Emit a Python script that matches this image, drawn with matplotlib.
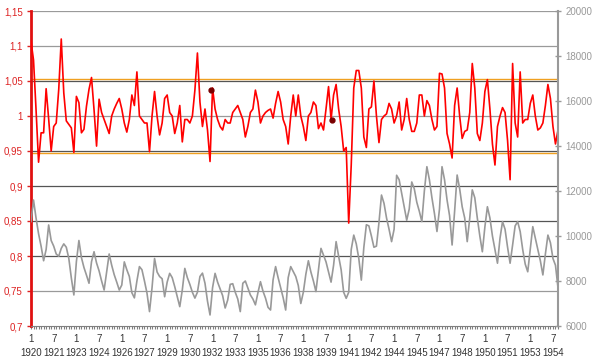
import numpy as np
import matplotlib.pyplot as plt
from matplotlib.ticker import MultipleLocator

plt.rcParams['font.family'] = ['Liberation Sans', 'DejaVu Sans']

# months counted from Jan 1920, one reading every second month
months = np.arange(0, 420, 2)

# ratio series (left axis)
ratio = [
    1.107, 1.08, 1.009, 0.934, 0.976, 0.976, 1.039, 0.996, 0.95, 0.985,
    0.99, 1.038, 1.11, 1.033, 0.993, 0.988, 0.983, 0.948, 1.028, 1.019,
    0.976, 0.981, 1.014, 1.038, 1.055, 1.009, 0.957, 1.024, 1.005, 0.995,
    0.985, 0.975, 1.0, 1.01, 1.018, 1.025, 1.01, 0.99, 0.977, 0.995,
    1.03, 1.015, 1.063, 1.0, 0.995, 0.99, 0.99, 0.949, 1.0, 1.035,
    1.0, 0.973, 0.99, 1.025, 1.03, 1.005, 1.0, 0.975, 0.99, 1.015,
    0.963, 0.995, 0.995, 0.99, 1.0, 1.037, 1.09, 1.02, 0.985, 1.01,
    0.98, 0.935, 1.04, 1.01, 0.995, 0.985, 0.98, 0.995, 0.99, 0.99,
    1.005, 1.01, 1.015, 1.005, 0.995, 0.97, 0.985, 1.005, 1.01, 1.037,
    1.02, 0.99, 1.0, 1.005, 1.008, 1.01, 0.997, 1.018, 1.035, 1.02,
    0.995, 0.985, 0.96, 1.0, 1.03, 1.0, 1.03, 1.0, 0.985, 0.965,
    1.0, 1.005, 1.02, 1.015, 0.982, 0.99, 0.98, 1.01, 1.042, 0.995,
    1.03, 1.045, 1.01, 0.985, 0.95, 0.955, 0.847, 0.93, 1.04, 1.065,
    1.065, 1.04, 0.97, 0.955, 1.01, 1.013, 1.05, 1.0, 0.962, 0.995,
    1.0, 1.003, 1.018, 1.01, 0.99, 1.0, 1.02, 0.98, 0.995, 1.025,
    0.995, 0.978, 0.978, 0.99, 1.03, 1.03, 1.0, 1.022, 1.015, 0.995,
    0.98, 0.985, 1.061, 1.06, 1.04, 0.975, 0.96, 0.94, 1.015, 1.04,
    1.0, 0.968, 0.978, 0.98, 1.005, 1.075, 1.04, 0.975, 0.965, 0.99,
    1.035, 1.052, 1.01, 0.96, 0.93, 0.985, 1.0, 1.012, 1.005, 0.965,
    0.909, 1.075, 0.99, 0.97, 1.063, 0.99, 0.995, 0.995, 1.018, 1.03,
    1.0, 0.98, 0.983, 0.99, 1.015, 1.045, 1.025, 0.985, 0.96, 0.98,
]

# level series (right axis)
level = [
    10640, 11600, 10800, 10100, 9550, 8900, 9400, 10490, 9800, 9550,
    9200, 9100, 9450, 9650, 9500, 9000, 8130, 7380, 8860, 9800,
    9040, 8600, 8260, 7900, 8860, 9300, 8800, 8450, 8000, 7600,
    8400, 9200, 8700, 8280, 7950, 7600, 7820, 8850, 8500, 8200,
    7480, 7250, 8000, 8640, 8500, 8000, 7460, 6640, 7700, 9000,
    8400, 8200, 8100, 7300, 7950, 8340, 8150, 7750, 7300, 6860,
    7600, 8560, 8150, 7850, 7500, 7240, 7500, 8200, 8350, 7900,
    7100, 6490, 7700, 8340, 7950, 7650, 7350, 6800, 7150, 7850,
    7880, 7500, 7200, 6640, 7900, 8000, 7690, 7380, 7200, 6940,
    7480, 7970, 7550, 7240, 6830, 6710, 8050, 8640, 8150, 7700,
    7260, 6710, 8150, 8640, 8420, 8200, 7800, 7000, 7500, 8300,
    8900, 8400, 8000, 7530, 8500, 9450, 9150, 8850, 8400, 7950,
    8700, 9750, 9100, 8500, 7500, 7230, 7500, 9400, 10040, 9650,
    9000, 8040, 9500, 10500, 10450, 10000, 9500, 9550, 10600, 11820,
    11450, 10800, 10300, 9750, 10300, 12700, 12500, 11900, 11300, 10700,
    11200, 12400, 12100, 11500, 11100, 10640, 12000, 13080, 12500, 11700,
    11000, 10200, 11200, 13080, 12500, 11600, 10900, 9600, 11100, 12710,
    12100, 11300, 10800, 9750, 10800, 12050, 11700, 10800, 10000, 9300,
    10400, 11300, 10800, 10000, 9400, 8790, 9900, 10640, 10300, 9500,
    8790, 9600, 10450, 10640, 10200, 9400, 8750, 8410, 9400, 10415,
    9900, 9400, 8900, 8270, 9200, 10040, 9700, 9000, 8700, 7700,
]

# control band around the ratio
band_upper = 1.053
band_lower = 0.947

# the two marked points
dot_months = [143, 239]
dot_values = [1.037, 0.995]

left_ticks = [0.7, 0.75, 0.8, 0.85, 0.9, 0.95, 1.0, 1.05, 1.1, 1.15]
left_labels = ["0,7", "0,75", "0,8", "0,85", "0,9", "0,95", "1", "1,05", "1,1", "1,15"]
grid_dark = [0.8, 0.85, 0.9, 0.95, 1.05]
right_ticks = [6000, 8000, 10000, 12000, 14000, 16000, 18000, 20000]

label_months = [0, 18, 36, 54, 72, 90, 108, 126, 144, 162, 180, 198,
                216, 234, 252, 270, 288, 306, 324, 342, 360, 378, 396, 414]
label_text = ["1\n1920", "7\n1921", "1\n1923", "7\n1924", "1\n1926", "7\n1927",
              "1\n1929", "7\n1930", "1\n1932", "7\n1933", "1\n1935", "7\n1936",
              "1\n1938", "7\n1939", "1\n1941", "7\n1942", "1\n1944", "7\n1945",
              "1\n1947", "7\n1948", "1\n1950", "7\n1951", "1\n1953", "7\n1954"]

fig = plt.figure(figsize=(5.98, 3.6), dpi=100)
ax = fig.add_axes([31 / 598, 34 / 360, 527 / 598, 315 / 360])
ax2 = ax.twinx()

# horizontal grid
for t in left_ticks[1:]:
    c = '#555555' if t in grid_dark else '#9a9a9a'
    ax.axhline(t, color=c, lw=0.9, zorder=1)
ax.axhline(band_upper, color='#f0a020', lw=1.0, zorder=2)
ax.axhline(band_lower, color='#f0a020', lw=1.0, zorder=2)

# series
ax2.plot(months, level, color='#999999', lw=1.2)
ax.plot(months, ratio, color='#ff0000', lw=1.2, zorder=3)
ax.plot(dot_months, dot_values, 'o', color='#7a0000', ms=3.5, zorder=4)

ax.set_xlim(0, 418)
ax.set_ylim(0.7, 1.15)
ax2.set_ylim(6000, 20000)

# left axis
ax.set_yticks(left_ticks)
ax.set_yticklabels(left_labels)
ax.tick_params(axis='y', colors='#dd2222', direction='out', length=3, width=1,
               labelsize=7, pad=3)
ax.spines['left'].set_color('#e01010')
ax.spines['left'].set_linewidth(2)
ax.spines['top'].set_visible(False)
ax.spines['right'].set_visible(False)
ax.spines['bottom'].set_color('#808080')

# right axis
ax2.set_yticks(right_ticks)
ax2.tick_params(axis='y', colors='#999999', direction='inout', length=5,
                width=1, labelsize=7, pad=3)
for s in ['left', 'top', 'bottom']:
    ax2.spines[s].set_visible(False)
ax2.spines['right'].set_color('#999999')
ax2.spines['right'].set_linewidth(1.5)

# x axis
ax.set_xticks(label_months)
ax.set_xticklabels(label_text)
ax.xaxis.set_minor_locator(MultipleLocator(2))
ax.tick_params(axis='x', which='both', colors='#808080', direction='out',
               length=2.5, width=0.8, labelsize=7, labelcolor='#333333', pad=3)
for lab in ax.get_xticklabels():
    lab.set_linespacing(1.5)

fig.savefig('out.png', dpi=100)
